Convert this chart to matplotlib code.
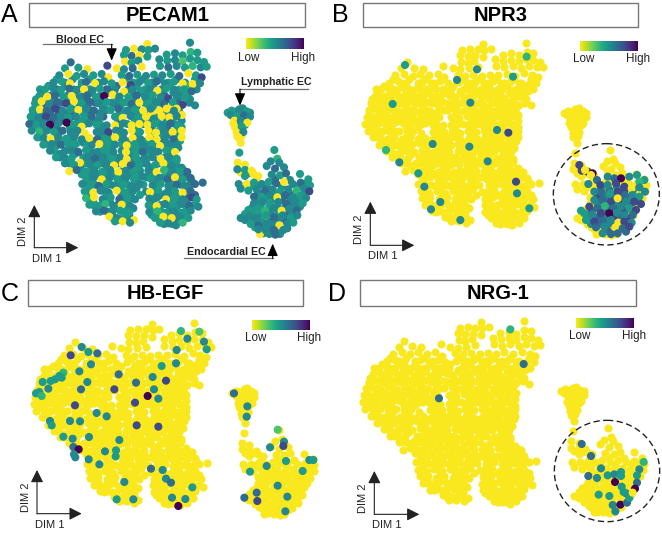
import matplotlib
matplotlib.use("Agg")
import matplotlib.pyplot as plt
import numpy as np
from matplotlib.patches import Rectangle, Ellipse

plt.rcParams['font.family'] = ['Liberation Sans', 'DejaVu Sans']

# Shared embedding (DIM 1, DIM 2, PECAM1 level 0-9)
blob_fill = [
(195,248,6),(245,248,5),(295,248,6),(400,248,5),(455,248,6),(505,248,5),(555,248,6),
(120,268,5),(170,268,7),(220,268,6),(270,268,5),(320,268,7),(385,268,6),(435,268,5),(485,268,6),(540,268,5),(590,268,6),
(150,288,7),(200,288,6),(250,288,7),(300,288,6),(348,288,5),(398,288,6),(445,288,5),(495,288,7),(542,288,6),
(135,308,7),(185,308,7),(235,308,6),(285,308,7),(335,308,6),(385,308,5),(432,308,6),(480,308,5),(535,308,7),(568,308,6),
(130,330,7),(175,330,8),(222,330,6),(270,330,7),(320,330,6),(392,330,5),(440,330,6),(488,330,5),(515,330,6),
(125,350,6),(170,350,7),(215,350,7),(262,350,6),(310,350,7),(355,350,5),(425,350,6),(472,350,5),(495,350,6),(520,350,5),
(120,372,6),(162,372,7),(212,372,6),(255,372,6),(300,372,5),(320,376,6),(382,372,5),(430,372,6),(478,372,5),(500,372,6),(525,372,5),
(130,392,6),(175,392,7),(222,392,5),(310,392,6),(360,392,5),(410,392,6),(478,392,5),(505,392,6),(532,392,5),
(120,412,5),(165,412,6),(210,412,5),(300,412,6),(330,412,5),(360,412,6),(410,412,5),(458,412,6),(482,412,5),(530,412,6),
(143,432,5),(170,432,6),(215,432,5),(250,428,6),(262,432,5),(310,432,6),(365,432,5),(418,432,6),(468,432,5),(518,432,6),
(160,452,5),(195,452,6),(222,452,5),(270,452,6),(300,452,5),(365,452,6),(415,452,5),(465,452,6),(512,452,5),
(180,472,6),(250,472,5),(298,472,6),(345,472,5),(395,472,6),(445,472,5),(495,472,6),(518,472,5),
(208,490,6),(255,490,5),(305,490,6),(355,490,5),(405,490,6),(428,490,5),(478,490,6),(505,490,5),(528,490,6),
(245,512,5),(270,512,6),(320,512,5),(368,512,6),(390,512,5),(420,512,6),(458,512,5),(505,512,6),(530,512,5),(552,512,6),
(270,532,6),(318,532,5),(365,532,6),(415,532,5),(440,532,6),(490,532,5),(538,532,6),(560,532,5),
(284,554,5),(332,554,6),(382,554,5),(406,554,6),(430,554,5),(470,554,6),(518,554,5),(542,554,6),(570,554,7),
(268,575,6),(315,575,5),(362,575,6),(386,575,5),(438,575,6),(462,575,5),(512,575,6),(560,575,5),
(270,595,5),(320,595,6),(370,595,5),(395,595,6),(460,595,5),(510,595,6),(535,595,5),(562,595,7),
(280,615,6),(304,615,5),(352,615,6),(378,615,5),(482,615,6),(508,615,5),(532,615,6),(582,615,5),
(300,635,5),(324,635,6),(375,635,5),(460,635,6),(485,635,5),(510,635,6),(535,635,5),(560,635,6),
(340,655,6),(362,655,5),(388,655,6),(478,655,5),(528,655,6),(552,655,5),
(492,672,6),(516,672,5),
]
blob_under = [
(170,238,5),(218,238,6),(268,238,5),(318,238,6),(378,238,5),(430,238,6),(480,238,5),(530,238,6),(585,238,5),
(145,258,5),(195,258,6),(245,258,5),(295,258,6),(350,258,7),(410,258,5),(460,258,6),(510,258,5),(565,258,4),
(125,278,6),(175,278,7),(225,278,5),(275,278,6),(325,278,7),(372,278,5),(425,278,6),(475,278,5),(520,278,6),(565,278,5),
(108,298,5),(158,298,6),(208,298,5),(258,298,7),(308,298,6),(358,298,5),(408,298,6),(458,298,5),(505,298,6),(570,298,6),
(110,320,6),(160,320,7),(210,320,5),(260,320,6),(310,320,5),(360,320,6),(410,320,6),(460,320,5),(510,320,0),(540,320,6),
(100,340,5),(150,340,7),(200,340,6),(250,340,5),(300,340,6),(360,340,5),(410,340,6),(455,340,0),(500,340,6),(540,340,6),
(100,362,6),(150,362,6),(190,362,7),(235,362,5),(280,362,6),(355,362,6),(405,362,5),(450,362,6),(500,362,5),(545,362,6),
(108,382,5),(160,382,6),(210,382,5),(300,382,6),(358,382,6),(408,382,5),(455,382,6),(500,382,7),(545,382,5),
(125,403,5),(175,403,6),(225,403,5),(305,403,6),(360,403,5),(410,403,6),(460,403,5),(505,403,6),(540,403,5),
(145,423,6),(195,423,5),(285,423,6),(335,423,5),(392,423,6),(440,423,5),(490,423,6),(540,423,5),
(165,443,5),(218,443,6),(265,443,5),(335,443,6),(392,443,5),(440,443,6),(490,443,5),(535,443,6),
(180,462,6),(225,462,5),(275,462,6),(325,462,5),(392,462,6),(445,462,5),(515,462,6),
(210,482,5),(278,482,6),(325,482,5),(355,482,6),(415,482,5),(475,482,6),(530,482,5),
(240,503,6),(275,503,5),(320,503,6),(415,503,5),(455,503,6),(505,503,5),(545,503,6),
(245,523,5),(295,523,6),(345,523,5),(390,523,6),(460,523,5),(510,523,6),(555,523,7),
(260,544,6),(310,544,5),(360,544,6),(410,544,5),(470,544,6),(520,544,5),(575,544,6),
(265,565,5),(315,565,6),(362,565,5),(410,565,6),(465,565,5),(515,565,6),(565,565,6),
(268,585,6),(320,585,5),(365,585,6),(420,585,5),(488,585,6),(538,585,5),(585,585,7),
(280,606,5),(330,606,6),(380,606,5),(460,606,6),(510,606,5),(560,606,6),
(300,625,6),(350,625,5),(400,625,6),(460,625,5),(510,625,6),(560,625,5),
(335,645,5),(388,645,6),(455,645,5),(505,645,6),(555,645,5),
(360,660,6),(495,660,5),(525,660,6),
]
blob = [
(570,128,6),(442,132,0),
(378,150,5),(402,146,0),(425,148,6),(445,150,5),(465,146,6),
(372,165,5),(395,168,7),(418,166,0),(442,170,5),(500,164,5),(525,160,6),(548,166,5),(572,156,4),(592,158,5),
(212,187,7),(322,197,8),(375,185,0),(395,188,5),(415,182,6),(478,178,6),(502,182,5),(525,180,6),(548,184,3),(570,176,5),(592,180,5),(612,186,5),
(195,205,5),(235,203,5),(262,207,0),(350,205,0),(372,208,6),(398,205,7),(425,200,0),(480,198,5),(505,202,7),(530,198,6),(555,203,5),(578,198,4),(602,202,6),(620,200,5),
(178,226,6),(205,222,0),(230,228,5),(252,222,6),(280,226,5),(305,222,6),(325,232,0),(365,225,5),(388,228,7),(412,224,5),(438,228,6),(462,224,5),(487,226,6),(512,222,5),(538,228,7),(565,220,0),(588,226,5),(605,232,8),
(160,248,6),(185,244,5),(210,250,0),(258,246,7),(285,250,0),(312,244,6),(335,250,5),(368,247,0),(392,255,8),(418,246,6),(445,250,5),(470,244,7),(495,250,6),(522,245,5),(548,250,0),(578,252,0),(600,250,6),
(135,268,5),(160,266,6),(183,270,5),(208,266,7),(232,270,6),(252,268,0),(278,272,6),(300,266,5),(325,270,7),(345,268,6),(372,274,0),(398,268,6),(422,272,5),(448,268,6),(472,272,0),(498,266,5),(525,270,6),(552,268,5),(575,274,7),
(118,288,5),(142,290,0),(165,286,7),(190,290,5),(215,288,0),(240,292,6),(262,286,7),(288,292,5),(312,288,9),(338,284,0),(358,290,6),(385,292,5),(410,286,7),(435,290,6),(458,286,5),(482,292,6),(505,296,8),(530,288,6),(555,292,5),(585,316,6),
(105,310,5),(125,304,0),(148,312,6),(172,306,7),(198,310,8),(222,304,0),(245,310,5),(270,306,7),(295,310,6),(320,306,5),(345,312,6),(370,308,5),(395,312,7),(418,308,0),(442,312,5),(468,306,6),(492,312,7),(518,306,5),(548,314,8),(530,326,0),
(98,330,5),(120,328,0),(140,332,7),(165,326,8),(188,332,6),(212,326,5),(235,330,0),(258,326,6),(282,332,7),(308,328,6),(332,330,5),(355,326,7),(380,332,6),(405,328,5),(430,332,0),(452,326,6),(478,332,0),(500,326,0),(522,332,6),(546,345,0),
(92,350,5),(115,352,6),(138,350,8),(160,354,7),(182,348,6),(205,352,5),(228,350,6),(252,354,5),(275,348,7),(298,352,6),(345,350,5),(368,354,0),(392,348,6),(415,352,5),(438,350,0),(462,356,6),(485,348,0),(508,352,0),(530,348,6),
(88,372,7),(110,374,5),(130,370,6),(150,374,9),(175,370,6),(200,368,9),(222,374,5),(245,380,0),(268,370,6),(290,374,5),(345,376,0),(370,370,6),(395,376,0),(418,372,0),(442,374,0),(465,370,5),(488,376,6),(512,370,7),(535,376,5),
(95,392,6),(118,394,4),(140,392,6),(162,396,5),(188,392,7),(212,396,6),(232,392,6),(255,400,0),(290,396,6),(325,396,8),(348,392,6),(372,398,6),(395,392,0),(420,396,5),(445,392,0),(468,398,0),(492,392,6),(518,396,0),(545,392,0),
(112,412,5),(132,414,6),(152,416,0),(175,412,6),(198,416,5),(222,412,6),(245,418,6),(268,414,0),(292,418,7),(315,416,5),(345,412,0),(372,418,6),(398,414,0),(422,418,6),(448,412,0),(470,418,0),(495,414,6),(520,418,7),(545,412,0),
(130,434,5),(155,432,6),(182,434,7),(205,436,5),(228,432,5),(275,436,6),(298,432,0),(322,438,5),(345,434,6),(380,436,0),(405,432,5),(430,438,6),(455,432,5),(480,438,0),(505,432,6),(530,436,6),
(150,452,6),(212,452,6),(235,456,7),(258,450,5),(290,456,6),(315,450,5),(340,456,6),(378,456,0),(402,452,5),(428,456,7),(452,450,6),(475,456,6),(500,452,5),(525,456,0),
(168,472,5),(192,470,6),(215,474,5),(240,488,0),(262,472,6),(285,476,7),(310,470,6),(335,476,5),(360,472,6),(380,478,0),(408,472,5),(432,476,6),(458,472,6),(482,476,0),(505,472,6),(530,476,5),
(195,490,6),(222,494,5),(268,492,6),(292,496,5),(318,490,6),(342,496,0),(368,492,0),(392,496,7),(440,492,6),(465,496,5),(490,490,0),(515,496,6),
(208,514,0),(230,510,7),(256,514,5),(282,510,6),(306,516,5),(330,510,6),(355,516,0),(378,512,6),(400,516,5),(445,512,6),(470,516,0),(492,510,4),(518,516,6),(542,514,5),(562,516,7),
(258,534,5),(282,532,6),(305,538,0),(330,532,6),(352,538,5),(378,534,6),(402,538,5),(428,530,6),(452,536,5),(478,534,6),(502,538,7),(525,532,0),(548,538,5),(572,534,7),
(247,552,6),(272,554,5),(296,558,7),(320,552,5),(345,558,6),(370,552,5),(395,558,6),(418,552,6),(458,556,6),(482,552,5),(505,558,6),(530,554,7),(555,558,6),(585,552,7),(608,548,7),
(254,574,5),(280,578,0),(302,572,6),(326,578,6),(350,572,0),(375,578,5),(398,574,6),(450,576,0),(475,572,5),(500,578,6),(525,574,5),(548,578,0),(572,574,7),
(258,594,4),(282,592,0),(308,598,6),(332,592,5),(358,598,7),(382,592,5),(405,598,6),(448,596,6),(472,592,6),(498,598,0),(522,594,5),(548,598,6),(575,592,8),(590,598,5),
(268,614,5),(292,618,5),(316,612,4),(340,618,6),(365,614,0),(390,618,6),(446,616,5),(470,618,0),(495,612,6),(520,618,5),(545,612,6),(568,618,7),(595,620,6),
(288,634,6),(312,632,7),(336,638,6),(360,632,5),(388,636,5),(448,636,6),(472,634,4),(498,638,5),(522,634,6),(548,638,5),(572,632,6),
(328,650,0),(350,654,6),(375,650,5),(402,660,0),(465,654,5),(490,650,0),(515,654,0),(540,650,6),(565,654,5),
(345,664,5),(368,664,0),(390,668,6),(480,668,5),(505,670,6),(528,676,6),(548,668,4),
]
lymph = [
(700,370,0),(718,390,0),(712,410,0),(725,408,0),(715,365,6),(735,375,5),
(683,338,5),(705,335,6),(728,325,6),(750,338,6),(702,352,6),(722,352,6),(742,355,6),
(695,332,5),(718,328,6),(740,334,5),(692,345,6),(712,348,5),(732,346,7),(750,350,6),
(703,362,0),(722,362,6),(742,368,0),(705,382,0),(725,380,5),(710,398,0),(730,396,6),(716,412,0),(722,428,0),(718,458,5),
]
endo_under = [
(722,518,0),(745,520,6),(770,535,0),(750,560,5),(775,558,6),(800,560,6),(825,538,7),(845,558,6),(870,540,6),(895,558,5),(915,552,5),(930,556,5),
(775,580,6),(800,578,6),(822,580,5),(845,582,6),(868,580,7),(892,582,6),(915,580,5),(775,600,5),(800,598,5),(825,598,6),(848,600,7),(872,600,6),(895,600,6),
(757,622,6),(782,618,5),(808,620,5),(832,620,6),(856,620,6),(880,620,6),(900,620,6),(735,642,5),(760,640,5),(785,640,5),(810,640,6),(835,640,5),(860,640,7),(880,640,6),
(735,660,6),(760,662,6),(785,664,5),(812,664,6),(835,662,6),(858,662,7),(878,660,6),(765,682,5),(790,682,6),(812,682,6),(838,690,5),(862,685,6),(790,700,6),(808,702,6),(840,702,6),
]
endo = [
(823,450,5),(832,476,4),(713,488,0),(735,494,0),(812,484,6),(838,488,6),
(712,508,6),(735,510,5),(755,512,0),(800,498,6),(825,506,7),(852,502,6),
(735,528,5),(760,522,0),(775,528,0),(815,524,6),(840,526,5),(858,520,7),(900,522,5),
(716,552,6),(740,552,0),(762,548,5),(785,552,6),(806,546,5),(828,550,7),(852,546,0),(878,552,6),(902,548,7),(925,538,5),
(722,566,6),(745,572,5),(770,568,6),(795,572,7),(818,568,6),(842,572,5),(865,568,6),(890,572,4),(912,566,6),(928,574,8),
(762,590,7),(785,590,5),(810,586,6),(832,592,0),(855,586,7),(878,592,6),(902,588,5),(918,594,6),
(762,610,6),(788,606,6),(812,612,5),(835,606,6),(860,612,7),(884,606,6),(908,610,5),
(745,630,5),(770,626,5),(795,632,4),(820,626,6),(845,632,0),(868,626,6),(890,632,7),
(722,654,6),(748,648,6),(772,652,6),(798,646,5),(822,652,7),(848,646,6),(872,652,5),(892,646,6),
(752,672,5),(775,676,7),(800,670,6),(825,676,6),(838,676,0),(862,672,6),(880,668,5),
(780,702,0),(775,688,6),(798,692,6),(822,690,7),(826,704,7),(850,690,6),
]
embedding = blob_fill + blob_under + endo_under + blob + lymph + endo

# Non-low cells per panel, read in that panel's own DIM 1, DIM 2 (level 0-9)
npr3_cells = [
(587,170,4),(378,240,6),(185,312,5),(418,308,6),(305,432,6),(165,450,4),(470,484,6),(498,390,6),
(438,208,6),(546,230,5),(262,520,5),(328,606,6),(415,440,6),(532,398,8),(555,545,8),(205,487,6),
(280,560,6),(300,628,6),(558,580,6),(595,625,5),(388,660,6),(222,195,5),
(810,565,6),(835,570,7),(858,562,6),(880,572,8),(905,572,6),(800,588,8),(825,590,6),(850,590,7),(872,592,8),(895,595,6),(918,598,7),
(800,612,6),(828,612,7),(852,612,6),(875,610,8),(898,612,7),(782,632,7),(808,630,6),(832,630,8),(858,628,7),(882,632,8),(908,635,7),
(772,650,6),(798,652,7),(822,650,6),(848,650,8),(870,652,7),(892,655,8),(780,672,6),(805,672,7),(830,672,6),(850,675,7),(872,678,8),(830,692,7),(858,692,6),(885,695,7),
(745,495,8),(752,512,8),(770,515,8),(762,510,0),(785,520,9),(780,525,0),(798,540,7),(772,552,6),(830,512,0),(830,530,6),(850,535,7),
(870,535,9),(895,530,6),(918,525,5),(940,540,5),(925,545,4),(808,555,8),(830,555,6),(855,550,8),(880,560,8),(902,565,0),(925,562,6),(942,575,6),
(790,575,6),(812,578,7),(838,580,5),(860,575,8),(882,585,7),(905,585,6),(925,590,5),(790,600,6),(815,600,7),(840,605,8),(860,595,0),(885,605,6),(910,605,8),(930,612,8),
(775,620,8),(800,625,7),(822,618,4),(845,625,7),(870,620,6),(895,625,5),(915,630,8),(760,640,5),(785,645,6),(810,640,8),(835,640,9),(858,638,6),(880,645,6),(905,645,7),
(750,632,5),(765,660,5),(790,665,8),(815,662,7),(840,660,6),(862,668,0),(880,665,8),(902,668,6),(795,682,7),(820,680,6),(853,682,0),(875,685,7),(895,680,8),(815,700,6),(840,702,7),(860,700,7),
]
hbegf_cells = [
(543,195,4),(598,197,3),(562,218,6),(612,227,6),(620,250,5),(530,252,6),(528,292,6),(485,300,5),(245,243,6),(212,268,8),(292,262,7),(265,258,5),
(238,316,6),(273,295,6),(356,325,7),(190,320,4),(178,330,5),(165,340,5),(128,348,5),(152,345,5),(185,335,5),(145,368,6),(118,378,5),(108,382,5),(125,390,4),
(262,348,6),(243,370,7),(343,370,8),(408,350,7),(458,333,6),(498,344,8),(462,370,6),(443,390,9),(475,398,6),(405,410,8),(225,418,8),(290,441,6),(320,451,6),
(150,465,6),(210,465,6),(240,466,6),(155,478,5),(410,478,8),(475,482,8),(218,518,6),(267,513,6),(358,522,6),(190,512,5),(220,543,7),(236,550,9),(222,565,6),(226,574,6),
(315,556,6),(348,553,5),(347,571,5),(266,580,6),(298,595,6),(453,608,7),(488,612,6),(498,638,6),(513,650,7),(373,648,6),(577,664,5),(350,700,5),(400,700,6),(556,699,6),(535,720,9),(516,695,6),
(742,421,6),(702,382,7),(740,452,6),(833,491,3),(852,527,6),(850,540,8),(810,544,6),(928,582,6),(858,585,5),(908,615,5),(800,600,6),(750,617,5),(833,659,6),(862,692,6),(733,695,7),(770,680,7),(772,705,8),(856,736,6),(940,582,5),
]
nrg1_cells = [
(538,190,4),(578,294,7),(324,397,7),(752,534,7),(780,570,7),(810,607,6),(772,630,7),(798,636,6),
(830,628,5),(850,625,6),(870,618,5),(925,610,6),(938,588,4),(870,630,5),(852,648,9),(918,628,5),(918,650,7),(912,668,9),(872,662,5),(885,682,6),(878,678,5),
(803,686,5),(835,690,5),(845,717,6),(868,716,9),(888,710,7),(895,696,5),(853,736,6),(905,680,0),
]

panels = ["PECAM1", "NPR3", "HB-EGF", "NRG-1"]
letters = ["A", "B", "C", "D"]

PANEL_W, PANEL_H = 993, 798
origins = [(0, 0), (331, 0), (0, 266), (331, 266)]
shifts = [(0, 0), (15, 0), (13, 42), (8, 37)]
boxes = [(88, 8, 915, 82), (97, 8, 922, 82), (84, 43, 910, 120), (88, 43, 914, 120)]
bars = [(737, 117, 910, 148), (748, 122, 922, 152), (757, 162, 930, 192), (736, 156, 910, 186)]
axis_arrows = [(103, 743, 615, 235), (118, 736, 605, 250), (111, 743, 612, 245), (130, 745, 615, 265)]
circles = [None, (826, 583, 159, 152), None, (828, 615, 158, 152)]
letter_pos = [(3, 44), (2, 44), (3, 84), (-8, 84)]
overlays = [[], npr3_cells, hbegf_cells, nrg1_cells]
level_pos = np.array([0.0, 0.1, 0.2, 0.28, 0.35, 0.45, 0.53, 0.65, 0.78, 1.0])

fig = plt.figure(figsize=(6.62, 5.33), dpi=100, facecolor="white")
FW, FH = 662, 533
cmap = plt.get_cmap("viridis_r")
YELLOW = "#F9E81E"
GREY = "#6f6f6f"
MS = 34

emb = np.array(embedding, dtype=float)

def colors_of(levels):
    return cmap(level_pos[np.asarray(levels, dtype=int)])

for i, name in enumerate(panels):
    ox, oy = origins[i]
    ax = fig.add_axes([ox / FW, 1 - (oy + PANEL_H / 3) / FH, (PANEL_W / 3) / FW, (PANEL_H / 3) / FH])
    ax.set_xlim(0, PANEL_W)
    ax.set_ylim(PANEL_H, 0)
    ax.axis("off")
    ax.patch.set_alpha(0)
    sx, sy = shifts[i]
    x0, y0, x1, y1 = boxes[i]
    ax.add_patch(Rectangle((x0, y0), x1 - x0, y1 - y0, fc="white", ec="#777777", lw=1.0))
    ax.text((x0 + x1) / 2, (y0 + y1) / 2 + 1, name, ha="center", va="center", fontsize=14.5, fontweight="bold", color="black")
    lx, ly = letter_pos[i]
    ax.text(lx, ly, letters[i], ha="left", va="center", fontsize=18, color="black", clip_on=False)

    if i == 0:
        ax.scatter(emb[:, 0], emb[:, 1], color=colors_of(emb[:, 2]), s=MS, lw=0, zorder=2)
    else:
        ax.scatter(emb[:, 0] + sx, emb[:, 1] + sy, color=YELLOW, s=MS, lw=0, zorder=2)
        ov = np.array(overlays[i], dtype=float)
        ax.scatter(ov[:, 0], ov[:, 1], color=colors_of(ov[:, 2]), s=MS, lw=0, zorder=3)

    bx0, by0, bx1, by1 = bars[i]
    grad = np.linspace(0, 1, 128).reshape(1, -1)
    ax.imshow(grad, cmap=cmap, extent=(bx0, bx1, by1, by0), aspect="auto", zorder=4)
    ax.set_xlim(0, PANEL_W)
    ax.set_ylim(PANEL_H, 0)
    ax.text(bx0 + 10, by1 + 25, "Low", ha="center", va="center", fontsize=8.4, color="#222222")
    ax.text(bx1 - 2, by1 + 25, "High", ha="center", va="center", fontsize=8.4, color="#222222")

    ax0, ay0, atop, aright = axis_arrows[i]
    arrowprops = dict(arrowstyle="-|>,head_length=0.75,head_width=0.38", color="#222222", lw=0.8, mutation_scale=10, shrinkA=0, shrinkB=0)
    ax.annotate("", xy=(ax0, atop), xytext=(ax0, ay0), arrowprops=arrowprops)
    ax.annotate("", xy=(aright, ay0), xytext=(ax0, ay0), arrowprops=arrowprops)
    ax.text(ax0 - 33, ay0 - 48, "DIM 2", rotation=90, ha="center", va="center", fontsize=8, color="#222222")
    ax.text(ax0 + 37, ay0 + 33, "DIM 1", ha="center", va="center", fontsize=8, color="#222222")

    if circles[i] is not None:
        cx, cy, rx, ry = circles[i]
        ax.add_patch(Ellipse((cx, cy), 2 * rx, 2 * ry, fill=False, ec="#222222", lw=1.0, ls=(0, (4.5, 2.5)), zorder=5))

    if i == 0:
        for label, tx, ty, lx0, lx1, ly_, tip in [
            ("Blood EC", 240, 119, 130, 335, 133, 182),
            ("Lymphatic EC", 828, 245, 925, 720, 267, 317),
            ("Endocardial EC", 678, 757, 553, 818, 775, 731),
        ]:
            ax.plot([lx0, lx1], [ly_, ly_], color=GREY, lw=0.9, zorder=5)
            ax.annotate("", xy=(lx1, tip), xytext=(lx1, ly_),
                        arrowprops=dict(arrowstyle="-|>,head_length=0.75,head_width=0.32", color="black", lw=0.8,
                                        mutation_scale=10, shrinkA=0, shrinkB=0), zorder=6)
            ax.text(tx, ty, label, ha="center", va="center", fontsize=7.7, fontweight="bold", color="#222222", zorder=6)

fig.savefig("out.png", dpi=100)
